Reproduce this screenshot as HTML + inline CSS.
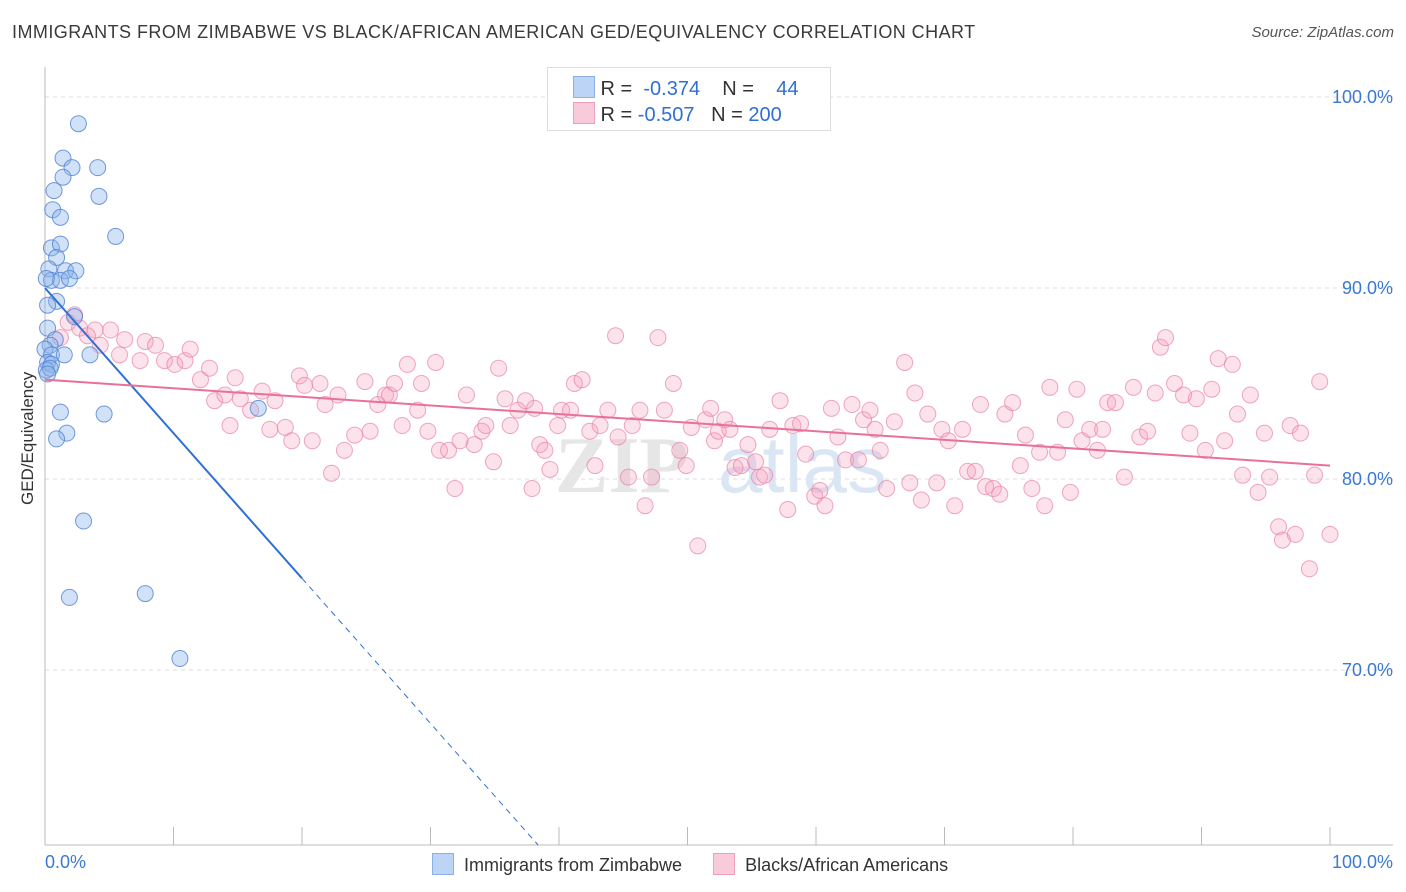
<!DOCTYPE html>
<html><head><meta charset="utf-8"><style>
body{margin:0;background:#fff;font-family:"Liberation Sans",sans-serif;}
#wrap{position:relative;width:1406px;height:892px;overflow:hidden;}
.title{position:absolute;left:12px;top:22px;font-size:18px;color:#3a3a3a;letter-spacing:0.45px;}
.source{position:absolute;right:12px;top:24px;font-size:15px;color:#555;font-style:italic;}
</style></head><body>
<div id="wrap">
<div class="title">IMMIGRANTS FROM ZIMBABWE VS BLACK/AFRICAN AMERICAN GED/EQUIVALENCY CORRELATION CHART</div>
<div class="source">Source: ZipAtlas.com</div>
<svg id="chart" width="1406" height="892" style="position:absolute;left:0;top:0"></svg>
</div>
<script>
const blueX=[2.6,1.4,2.1,4.1,1.4,0.7,4.2,0.6,1.2,5.5,0.5,1.2,0.9,0.3,1.6,2.4,0.5,1.2,1.9,0.1,0.9,0.2,2.3,0.2,0.8,0.4,0.0,0.5,1.5,3.5,0.2,0.5,0.1,0.4,1.2,4.6,16.6,1.7,0.9,3.0,1.9,7.8,10.5,0.2];
const blueY=[98.6,96.8,96.3,96.3,95.8,95.1,94.8,94.1,93.7,92.7,92.1,92.3,91.6,91.0,90.9,90.9,90.4,90.4,90.5,90.5,89.3,89.1,88.5,87.9,87.3,87.0,86.8,86.5,86.5,86.5,86.1,86.0,85.7,85.8,83.5,83.4,83.7,82.4,82.1,77.8,73.8,74.0,70.6,85.5];
const pinkX=[2.3,1.8,2.7,3.9,5.1,3.3,1.2,4.3,6.2,7.8,8.6,5.8,7.4,9.3,10.1,10.9,11.3,12.8,12.1,14.8,13.2,14.4,14.0,16.0,15.2,16.9,17.9,17.5,18.7,19.2,19.8,20.2,21.4,21.8,20.8,22.8,23.3,22.3,24.1,24.9,25.3,25.9,26.5,26.8,27.2,27.8,28.2,29.0,29.3,29.8,30.4,30.7,31.4,31.9,32.3,32.8,33.4,34.0,34.3,34.9,35.3,35.8,36.2,36.8,37.4,37.9,38.1,38.5,38.9,39.3,39.9,40.2,40.9,41.2,41.8,42.4,42.8,43.2,43.8,44.4,44.6,45.4,45.7,46.3,46.7,47.2,47.7,48.2,48.9,49.4,49.9,50.3,50.8,51.4,51.8,52.1,52.4,52.9,53.3,53.7,54.2,54.7,55.3,55.6,56.0,56.4,57.2,57.8,58.2,58.8,59.2,59.9,60.3,60.7,61.2,61.7,62.3,62.8,63.3,63.7,64.2,64.6,65.0,65.5,66.1,66.9,67.3,67.7,68.2,68.7,69.4,69.8,70.3,70.8,71.4,71.8,72.4,72.8,73.2,73.8,74.3,74.7,75.3,75.9,76.3,76.8,77.4,77.8,78.2,78.8,79.4,79.8,80.3,80.7,81.3,81.9,82.3,82.7,83.3,84.0,84.7,85.2,85.8,86.4,86.8,87.2,87.9,88.6,89.1,89.6,90.3,90.8,91.3,91.8,92.4,92.8,93.2,93.8,94.4,94.9,95.3,96.0,96.3,96.9,97.3,97.7,98.4,98.8,99.2,100];
const pinkY=[88.6,88.2,87.9,87.8,87.8,87.5,87.4,87.0,87.3,87.2,87.0,86.5,86.2,86.2,86.0,86.2,86.8,85.8,85.2,85.3,84.1,82.8,84.4,83.6,84.2,84.6,84.1,82.6,82.7,82.0,85.4,84.9,85.0,83.9,82.0,84.4,81.5,80.3,82.3,85.1,82.5,83.9,84.4,84.4,85.0,82.8,86.0,83.6,85.0,82.5,86.1,81.5,81.5,79.5,82.0,84.4,81.8,82.5,82.8,80.9,85.8,84.2,82.8,83.6,84.1,79.5,83.7,81.8,81.5,80.5,82.8,83.6,83.6,85.0,85.2,82.5,80.7,82.8,83.6,87.5,82.2,80.1,82.8,83.6,78.6,80.1,87.4,83.6,85.0,81.5,80.7,82.7,76.5,83.1,83.7,82.0,82.5,83.1,82.6,80.6,80.7,81.8,80.9,80.1,80.2,82.6,84.1,78.4,82.8,82.9,81.3,79.1,79.4,78.6,83.7,82.2,81.0,83.9,81.0,83.1,83.6,82.6,81.5,79.5,83.0,86.1,79.8,84.5,78.9,83.4,79.8,82.6,82.0,78.6,82.6,80.4,80.4,83.9,79.6,79.5,79.2,83.4,84.0,80.7,82.3,79.5,81.4,78.6,84.8,81.4,83.1,79.3,84.7,82.0,82.6,81.5,82.6,84.0,84.0,80.1,84.8,82.2,82.5,84.5,86.9,87.4,85.0,84.4,82.4,84.2,81.5,84.7,86.3,82.0,86.0,83.4,80.2,84.4,79.3,82.4,80.1,77.5,76.8,82.8,77.1,82.4,75.3,80.2,85.1,77.1];
const xTicks=[0,10,20,30,40,50,60,70,80,90,100];
const yGrid=[100,90,80,70];
const yLabels=["100.0%","90.0%","80.0%","70.0%"];
const blueTrend=[90.0,-0.76];
const pinkTrend=[85.2,80.7];

const svg=document.getElementById('chart');
const NS='http://www.w3.org/2000/svg';
const X=v=>45+v*12.85;
const Y=v=>97+(100-v)*19.1;
function mk(t,a){const e=document.createElementNS(NS,t);for(const k in a)e.setAttribute(k,a[k]);svg.appendChild(e);return e;}

yGrid.forEach((g,i)=>{
  const l=mk('line',{x1:45,x2:1393,y1:Y(g),y2:Y(g),stroke:'#ddd','stroke-dasharray':'4,4'});
  
  
  const t=mk('text',{x:1393,y:Y(g)+6,'text-anchor':'end','font-size':18,fill:'#3a78d4'});
  t.textContent=yLabels[i];
  
  
});
let ax=mk('line',{x1:45,x2:1393,y1:845,y2:845,stroke:'#bbb'});


let ay=mk('line',{x1:45,x2:45,y1:67,y2:845,stroke:'#bbb'});


xTicks.forEach(v=>{
  const l=mk('line',{x1:X(v),x2:X(v),y1:827,y2:845,stroke:'#bbb'});
  
  
});
let wm=mk('text',{x:555,y:492,'font-size':80,fill:'#e6e6e6','font-family':'Liberation Serif','font-weight':'bold'});
wm.textContent='ZIP';


let wm2=mk('text',{x:718,y:492,'font-size':80,fill:'#dbe6f5'});
wm2.textContent='atlas';



pinkX.forEach((x,i)=>{
  const c=mk('circle',{cx:X(x),cy:Y(pinkY[i]),r:8,fill:'rgba(244,160,188,0.3)',stroke:'rgba(232,130,165,0.7)','stroke-width':1});
  
  
});
blueX.forEach((x,i)=>{
  const c=mk('circle',{cx:X(x),cy:Y(blueY[i]),r:8,fill:'rgba(140,180,235,0.4)',stroke:'rgba(80,130,210,0.8)','stroke-width':1});
  
  
});
const bAt=x=>blueTrend[0]+blueTrend[1]*x;
const xEnd=(blueTrend[0]-(100-748/19.1))/(-blueTrend[1]);
let bl=mk('line',{x1:X(0),y1:Y(bAt(0)),x2:X(20),y2:Y(bAt(20)),stroke:'#2f6fd6','stroke-width':2});


let bd=mk('line',{x1:X(20),y1:Y(bAt(20)),x2:X(xEnd),y2:Y(bAt(xEnd)),stroke:'#2f6fd6','stroke-width':1,'stroke-dasharray':'6,5'});


let pl=mk('line',{x1:X(0),y1:Y(pinkTrend[0]),x2:X(100),y2:Y(pinkTrend[1]),stroke:'#e8709a','stroke-width':2});


</script>
<div style="position:absolute;left:547px;top:67px;width:282px;height:62px;border:1px solid #ddd;background:#fff;font-size:20px;color:#333;">
 <div style="position:absolute;left:25px;top:8px;white-space:nowrap;"><span style="display:inline-block;width:20px;height:20px;background:#bcd4f5;border:1px solid #8ab0e6;vertical-align:-3px;"></span> R = <span style="color:#2f6fd6">&nbsp;-0.374</span>&nbsp;&nbsp;&nbsp; N = <span style="color:#2f6fd6">&nbsp;&nbsp;&nbsp;44</span></div>
 <div style="position:absolute;left:25px;top:34px;white-space:nowrap;"><span style="display:inline-block;width:20px;height:20px;background:#f9cad9;border:1px solid #eea0bb;vertical-align:-3px;"></span> R = <span style="color:#2f6fd6">-0.507</span>&nbsp;&nbsp; N = <span style="color:#2f6fd6">200</span></div>
</div>
<div style="position:absolute;left:-22px;top:445px;transform:rotate(-90deg);font-size:17px;color:#333;width:100px;text-align:center;">GED/Equivalency</div>
<div style="position:absolute;left:45px;top:852px;font-size:18px;color:#3a78d4;">0.0%</div>
<div style="position:absolute;right:13px;top:852px;font-size:18px;color:#3a78d4;">100.0%</div>
<div style="position:absolute;left:432px;top:853px;font-size:18px;color:#333;white-space:nowrap;">
 <span><span style="display:inline-block;width:20px;height:20px;background:#bcd4f5;border:1px solid #8ab0e6;vertical-align:-4px;"></span>&nbsp; Immigrants from Zimbabwe</span>
 <span style="margin-left:26px;"><span style="display:inline-block;width:20px;height:20px;background:#f9cad9;border:1px solid #eea0bb;vertical-align:-4px;"></span>&nbsp; Blacks/African Americans</span>
</div>
</body></html>
